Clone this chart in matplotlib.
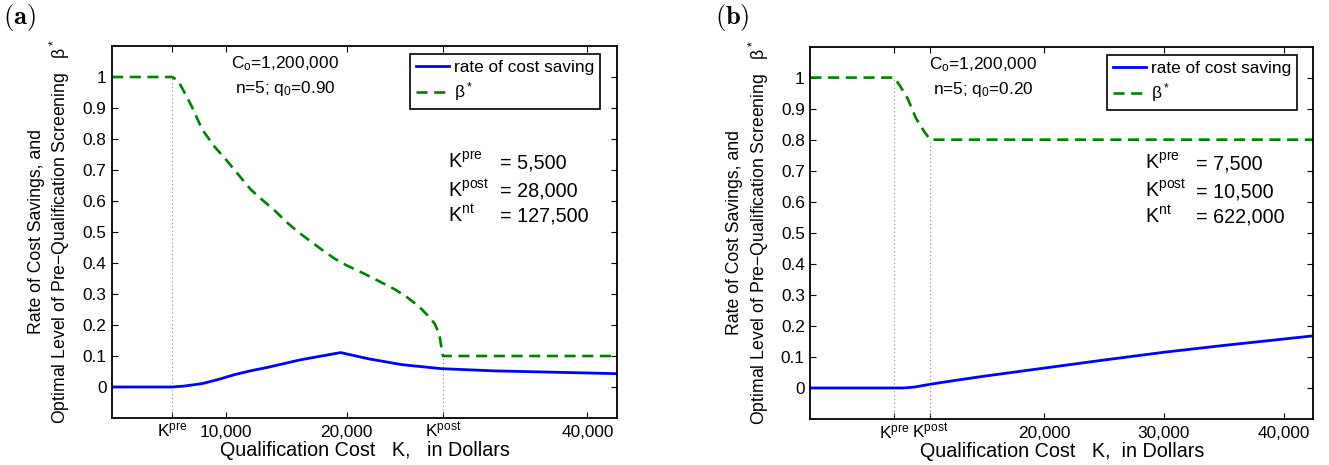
import numpy as np
import matplotlib
matplotlib.use('Agg')
import matplotlib.pyplot as plt

plt.rcParams['font.family'] = ['Liberation Sans', 'DejaVu Sans']
plt.rcParams['mathtext.fontset'] = 'custom'
plt.rcParams['mathtext.rm'] = 'Liberation Sans'
plt.rcParams['mathtext.it'] = 'Liberation Sans:italic'
plt.rcParams['mathtext.bf'] = 'Liberation Sans:bold'
plt.rcParams['font.size'] = 12.4

#### Panel (a): q0 = 0.90
k_save_a = [500, 5500, 6500, 8000, 9300, 10700, 12000, 13500, 16200, 19500, 21800, 24600, 27900, 32300, 42500]
save_a = [0, 0, 0.003, 0.011, 0.024, 0.040, 0.052, 0.064, 0.088, 0.111, 0.091, 0.072, 0.059, 0.052, 0.043]
k_beta_a = [500, 5500, 6000, 7100, 8000, 9000, 10000, 11000, 12000, 13000, 14000, 15000, 16000,
            17000, 18000, 19000, 20000, 21000, 22000, 23000, 24000, 25000, 26000, 26800, 27300,
            27700, 27900, 28000, 42500]
beta_a = [1.0, 1.0, 0.988, 0.907, 0.83, 0.776, 0.732, 0.685, 0.638, 0.603, 0.570, 0.532, 0.499,
          0.470, 0.441, 0.414, 0.392, 0.374, 0.355, 0.335, 0.315, 0.290, 0.260, 0.228, 0.205,
          0.170, 0.120, 0.10, 0.10]
kpre_a, kpost_a = 5500, 28000
xticks_a = [5500, 10000, 20000, 28000, 40000]
xticklabels_a = [r'$\mathregular{K^{pre}}$', '10,000', '20,000', r'$\mathregular{K^{post}}$', '40,000']
q0_a = '0.90'
kvals_a = ['5,500', '28,000', '127,500']

#### Panel (b): q0 = 0.20
k_save_b = [500, 8300, 9200, 10500, 12000, 15000, 20000, 25000, 30000, 35000, 42500]
save_b = [0, 0, 0.003, 0.012, 0.021, 0.038, 0.064, 0.090, 0.115, 0.137, 0.168]
k_beta_b = [500, 7500, 8000, 8600, 9300, 10000, 10500, 42500]
beta_b = [1.0, 1.0, 0.972, 0.934, 0.870, 0.826, 0.80, 0.80]
kpre_b, kpost_b = 7500, 10500
xticks_b = [7500, 10500, 20000, 30000, 40000]
xticklabels_b = [r'$\mathregular{K^{pre}}$', r'$\mathregular{K^{post}}$', '20,000', '30,000', '40,000']
q0_b = '0.20'
kvals_b = ['7,500', '10,500', '622,000']

yticks = [0, 0.1, 0.2, 0.3, 0.4, 0.5, 0.6, 0.7, 0.8, 0.9, 1.0]
yticklabels = ['0', '0.1', '0.2', '0.3', '0.4', '0.5', '0.6', '0.7', '0.8', '0.9', '1']


def draw_panel(ax, k_save, save, k_beta, beta, kpre, kpost, xticks, xticklabels,
               q0, kvals, xlabel, legend_anchor):
    # dotted markers at K^pre and K^post, up to the beta curve
    for kk in (kpre, kpost):
        top = np.interp(kk, k_beta, beta)
        ax.plot([kk, kk], [-0.1, top], color='0.55', lw=0.8, linestyle=(0, (1, 2.5)))

    ax.plot(k_save, save, color='#0000ff', lw=2.0, label='rate of cost saving')
    ax.plot(k_beta, beta, color='#008000', lw=1.9, linestyle=(0, (4.2, 2.5)),
            label=r'$\mathregular{\beta^*}$')

    ax.set_xlim(500, 42500)
    ax.set_ylim(-0.1, 1.1)
    ax.set_xticks(xticks)
    ax.set_xticklabels(xticklabels)
    ax.set_yticks(yticks)
    ax.set_yticklabels(yticklabels)
    ax.tick_params(direction='in', top=True, right=True, length=4, width=0.8)
    ax.tick_params(axis='y', pad=4)
    ax.tick_params(axis='x', pad=14)
    for lbl in ax.get_xticklabels():
        lbl.set_va('baseline')
    for sp in ax.spines.values():
        sp.set_linewidth(1.3)

    ax.set_xlabel(xlabel, fontsize=14.2)
    ax.xaxis.set_label_coords(0.5, -0.088)
    ax.xaxis.label.set_va('center')
    ax.set_ylabel('Rate of Cost Savings, and\n'
                  'Optimal Level of Pre\u2212Qualification Screening   $\\mathregular{\\beta^*}$',
                  multialignment='center', fontsize=12.7)
    ax.yaxis.set_label_coords(-0.123, 0.5)
    ax.yaxis.label.set_va('center')

    # parameter text
    ax.text(14900, 1.027, r'$\mathregular{C_o}$=1,200,000', ha='center', va='baseline')
    ax.text(14900, 0.948, 'n=5; $\\mathregular{q_0}$=' + q0, ha='center', va='baseline')

    names = [r'$\mathregular{K^{pre}}$', r'$\mathregular{K^{post}}$', r'$\mathregular{K^{nt}}$']
    ys = [0.705, 0.614, 0.533]
    for nm, val, yy in zip(names, kvals, ys):
        ax.text(28400, yy, nm, ha='left', va='baseline', fontsize=14.2)
        ax.text(32730, yy, '= ' + val, ha='left', va='baseline', fontsize=14.2)

    leg = ax.legend(loc='upper right', bbox_to_anchor=legend_anchor,
                    bbox_transform=ax.figure.transFigure, borderaxespad=0,
                    fancybox=False, framealpha=1, edgecolor='black',
                    handlelength=1.9, handletextpad=0.3, borderpad=0.35,
                    labelspacing=0.3)
    leg.get_frame().set_linewidth(1.2)


fig = plt.figure(figsize=(13.29, 4.65), dpi=100)
ax_a = fig.add_axes([0.0843, 0.1011, 0.3803, 0.800])
ax_b = fig.add_axes([0.6098, 0.0989, 0.3785, 0.801])

draw_panel(ax_a, k_save_a, save_a, k_beta_a, beta_a, kpre_a, kpost_a, xticks_a, xticklabels_a,
           q0_a, kvals_a, 'Qualification Cost   K,   in Dollars', (600 / 1329, 1 - 54 / 465))
draw_panel(ax_b, k_save_b, save_b, k_beta_b, beta_b, kpre_b, kpost_b, xticks_b, xticklabels_b,
           q0_b, kvals_b, 'Qualification Cost   K,  in Dollars', (1297 / 1329, 1 - 55 / 465))

fig.text(3 / 1329, 1 - 2 / 465, r'$\mathbf{(a)}$', math_fontfamily='cm', fontsize=19, va='top', ha='left')
fig.text(715 / 1329, 1 - 2 / 465, r'$\mathbf{(b)}$', math_fontfamily='cm', fontsize=19, va='top', ha='left')

fig.savefig('out.png', dpi=100)
